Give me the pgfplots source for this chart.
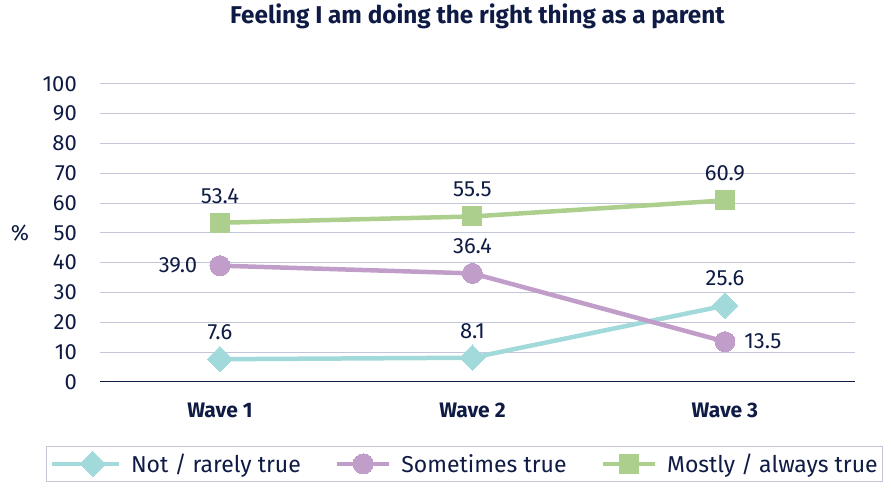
\documentclass[border=0pt]{standalone}
\usepackage{fontspec}
\setmainfont{Fira Sans}
\usepackage{pgfplots}
\pgfplotsset{compat=1.18}
\definecolor{navy}{HTML}{0F1B45}
\definecolor{gridc}{HTML}{C3C6D9}
\definecolor{tealc}{HTML}{A2D9DB}
\definecolor{purp}{HTML}{C19DC9}
\definecolor{grn}{HTML}{ACCF8D}
\pgfplotstableread{
x y dx dy
0 7.6 0 27
1 8.1 0 27
2 25.6 0 27
}\notrarely
\pgfplotstableread{
x y dx dy
0 39.0 -42 0
1 36.4 0 27
2 13.5 38 0
}\sometimes
\pgfplotstableread{
x y dx dy
0 53.4 0 27
1 55.5 0 27
2 60.9 0 27
}\mostly
\newcommand{\lfont}{\fontsize{22}{25}\selectfont}
\begin{document}
\begin{tikzpicture}
\begin{axis}[
  at={(100pt,106pt)}, anchor=south west,
  scale only axis, width=755pt, height=298pt,
  xmin=-0.475, xmax=2.515, ymin=0, ymax=100,
  xtick={0,1,2}, xticklabels={Wave 1,Wave 2,Wave 3},
  ytick={0,10,...,100},
  ymajorgrids, grid style={gridc, line width=1pt},
  axis x line*=bottom, axis y line*=left,
  x axis line style={draw=navy, line width=1.2pt, -},
  y axis line style={draw=none},
  major tick length=0pt,
  /pgf/number format/assume math mode=true,
  ticklabel style={font=\lfont, text=navy, inner sep=0pt},
  yticklabel style={anchor=east, xshift=-23pt},
  xticklabel style={anchor=north, yshift=-21pt, font=\fontsize{21}{24}\selectfont\bfseries},
  ylabel={\%},
  every axis y label/.style={at={(axis description cs:-0.106,0.5)}, anchor=center, font=\lfont, text=navy},
  title={Feeling I am doing the right thing as a parent},
  title style={at={(axis description cs:0.5,1.208)}, anchor=center, font=\fontsize{24.3}{28}\selectfont\bfseries, text=navy},
  legend columns=3,
  legend style={at={(axis description cs:-0.0715,-0.214)}, anchor=north west,
    draw=gridc, line width=1pt, font=\fontsize{23}{26}\selectfont, text=navy,
    inner xsep=3pt, inner ysep=5pt,
    /tikz/every odd column/.append style={column sep=8pt},
    /tikz/every even column/.append style={column sep=32pt}},
  legend image code/.code={\draw[mark repeat=2,mark phase=2,#1] plot coordinates {(0pt,0pt) (26pt,0pt) (52pt,0pt)};},
  nodes near coords={\pgfmathprintnumber[fixed,fixed zerofill,precision=1]{\pgfplotspointmeta}},
  visualization depends on={\thisrow{dx}\as\dx},
  visualization depends on={\thisrow{dy}\as\dy},
  nodes near coords style={anchor=center, xshift=\dx pt, yshift=\dy pt, font=\lfont, text=navy},
  point meta=y,
]
\addplot[tealc, line width=4.5pt, mark=square*, mark size=9pt, mark options={rotate=45, solid, line width=0pt},
  legend image code/.code={\path (-15pt,0pt) -- (0pt,0pt); \draw[mark repeat=2,mark phase=2,##1] plot coordinates {(0pt,0pt) (26pt,0pt) (52pt,0pt)};}] table[x=x,y=y]{\notrarely};
\addlegendentry{Not / rarely true}
\addplot[purp, line width=4.5pt, mark=*, mark size=10pt, mark options={solid, line width=0pt}] table[x=x,y=y]{\sometimes};
\addlegendentry{Sometimes true}
\addplot[grn, line width=4.5pt, mark=square*, mark size=9.5pt, mark options={solid, line width=0pt}] table[x=x,y=y]{\mostly};
\addlegendentry{Mostly / always true}
\end{axis}
\path (0pt,0pt) rectangle (891pt,486pt);
\end{tikzpicture}
\end{document}
